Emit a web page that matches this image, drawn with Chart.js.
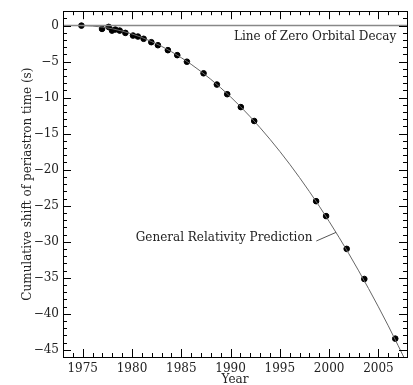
<!DOCTYPE html>
<html>
<head>
<meta charset="utf-8">
<script src="https://cdn.jsdelivr.net/npm/chart.js@4.4.1/dist/chart.umd.min.js"></script>
<style>
  html, body { margin: 0; padding: 0; background: #fff; }
  #wrap { width: 413px; height: 385px; }
</style>
</head>
<body>
<div id="wrap"><canvas id="chart" width="413" height="385"></canvas></div>
<script>
// timing measurements (year, cumulative shift in s)
const obsYears = [1974.87, 1976.96, 1977.63, 1977.97, 1978.31, 1978.75, 1979.33, 1980.10, 1980.60, 1981.18,
                  1981.96, 1982.63, 1983.64, 1984.59, 1985.57, 1987.26, 1988.61, 1989.66, 1991.04, 1992.40,
                  1998.68, 1999.69, 2001.78, 2003.57, 2006.71];
const obsShift = [0.0, -0.46, -0.18, -0.69, -0.55, -0.69, -1.01, -1.38, -1.52, -1.83,
                  -2.30, -2.72, -3.41, -4.10, -5.01, -6.62, -8.18, -9.52, -11.31, -13.24,
                  -24.37, -26.44, -30.99, -35.17, -43.45];

// general relativity prediction
const curveYears = [1974.8, 1976, 1978, 1980, 1982, 1984, 1986, 1988, 1990, 1992,
                    1994, 1996, 1998, 2000, 2002, 2004, 2006, 2008];
const curveShift = [0, -0.06, -0.44, -1.16, -2.22, -3.62, -5.37, -7.46, -9.89, -12.66,
                    -15.78, -19.24, -23.04, -27.18, -31.67, -36.50, -41.67, -47.2];

// line of zero orbital decay
const zeroYears = [1973, 2007.9];
const zeroShift = [0, 0];

const xTicks = [1975, 1980, 1985, 1990, 1995, 2000, 2005];
const yTicks = [0, -5, -10, -15, -20, -25, -30, -35, -40, -45];

const FONT = 'DejaVu Serif';
const INK = '#222';

function pairs(xs, ys) {
    return xs.map((x, i) => ({ x: x, y: ys[i] }));
}

// ticks pointing inwards on all four sides, frame, and labels
const framePlugin = {
    id: 'frame',
    afterDatasetsDraw(chart) {
        const ctx = chart.ctx;
        const a = chart.chartArea;
        const xs = chart.scales.x;
        const ys = chart.scales.y;
        ctx.save();
        ctx.strokeStyle = '#000';
        ctx.lineWidth = 1;
        ctx.beginPath();
        for (let yr = 1973; yr <= 2007; yr++) {
            const px = Math.round(xs.getPixelForValue(yr)) + 0.5;
            const len = yr % 5 === 0 ? 8 : 4;
            ctx.moveTo(px, a.bottom); ctx.lineTo(px, a.bottom - len);
            ctx.moveTo(px, a.top); ctx.lineTo(px, a.top + len);
        }
        for (let v = -46; v <= 2; v++) {
            const py = Math.round(ys.getPixelForValue(v)) + 0.5;
            const len = v % 5 === 0 ? 8 : 4;
            ctx.moveTo(a.left, py); ctx.lineTo(a.left + len, py);
            ctx.moveTo(a.right, py); ctx.lineTo(a.right - len, py);
        }
        ctx.stroke();
        ctx.strokeRect(Math.round(a.left) + 0.5, Math.round(a.top) + 0.5,
                       Math.round(a.right - a.left), Math.round(a.bottom - a.top));

        // labels
        ctx.fillStyle = INK;
        ctx.font = '12px "' + FONT + '"';
        ctx.textAlign = 'right';
        ctx.textBaseline = 'middle';
        ctx.fillText('Line of Zero Orbital Decay', xs.getPixelForValue(2006.8), ys.getPixelForValue(-1.5));
        ctx.fillText('General Relativity Prediction', xs.getPixelForValue(1998.3), ys.getPixelForValue(-29.4));
        ctx.strokeStyle = '#555';
        ctx.beginPath();
        ctx.moveTo(xs.getPixelForValue(1998.7), ys.getPixelForValue(-29.9));
        ctx.lineTo(xs.getPixelForValue(2000.7), ys.getPixelForValue(-28.7));
        ctx.stroke();
        ctx.restore();
    }
};

const ctx = document.getElementById('chart').getContext('2d');
const chart = new Chart(ctx, {
    type: 'scatter',
    data: {
        datasets: [
            {
                label: 'Zero decay',
                data: pairs(zeroYears, zeroShift),
                showLine: true,
                borderColor: '#888',
                borderWidth: 1.5,
                pointRadius: 0
            },
            {
                label: 'GR prediction',
                data: pairs(curveYears, curveShift),
                showLine: true,
                borderColor: '#666',
                borderWidth: 1,
                pointRadius: 0,
                cubicInterpolationMode: 'monotone'
            },
            {
                label: 'Observed',
                data: pairs(obsYears, obsShift),
                backgroundColor: '#000',
                borderColor: '#000',
                pointRadius: 2.8,
                pointHoverRadius: 2.8
            }
        ]
    },
    options: {
        responsive: false,
        animation: false,
        events: [],
        layout: { padding: { left: 14, top: 10, right: 6, bottom: 0 } },
        plugins: {
            legend: { display: false },
            tooltip: { enabled: false }
        },
        scales: {
            x: {
                type: 'linear',
                min: 1973,
                max: 2007.9,
                grid: { display: false, drawTicks: false },
                border: { display: false },
                afterBuildTicks: s => { s.ticks = xTicks.map(v => ({ value: v })); },
                afterFit: s => { s.height = 28; },
                ticks: {
                    padding: 5,
                    color: INK,
                    font: { family: FONT, size: 12 },
                    callback: v => String(v)
                },
                title: {
                    display: true,
                    text: 'Year',
                    color: INK,
                    padding: { top: 0, bottom: -2 },
                    font: { family: FONT, size: 12 }
                }
            },
            y: {
                type: 'linear',
                min: -46,
                max: 2,
                grid: { display: false, drawTicks: false },
                border: { display: false },
                afterBuildTicks: s => { s.ticks = yTicks.map(v => ({ value: v })); },
                afterFit: s => { s.width = 49; },
                ticks: {
                    padding: 4,
                    color: INK,
                    font: { family: FONT, size: 12 },
                    callback: v => String(v).replace('-', '\u2212')
                },
                title: {
                    display: true,
                    text: 'Cumulative shift of periastron time (s)',
                    color: INK,
                    padding: { top: 7, bottom: 0 },
                    font: { family: FONT, size: 12 }
                }
            }
        }
    },
    plugins: [framePlugin]
});
</script>
</body>
</html>
